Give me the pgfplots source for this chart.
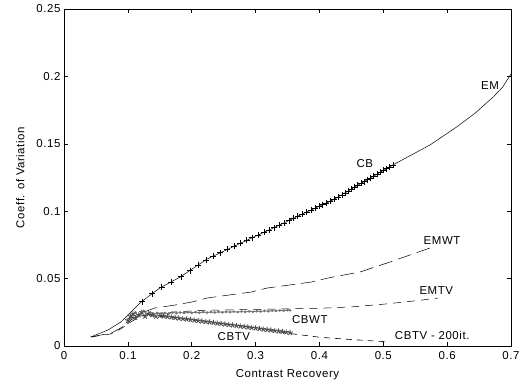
\documentclass[border=0pt]{standalone}
\usepackage{pgfplots}
\pgfplotsset{compat=1.18}
\usepackage{fontspec}
\setmainfont{Liberation Sans}[LetterSpace=5]
\begin{document}
\begin{tikzpicture}
\begin{axis}[
  scale only axis, width=447bp, height=337bp,
  xmin=0, xmax=0.7, ymin=0, ymax=0.25,
  xtick={0,0.1,0.2,0.3,0.4,0.5,0.6,0.7},
  xticklabels={0,0.1,0.2,0.3,0.4,0.5,0.6,0.7},
  ytick={0,0.05,0.1,0.15,0.2,0.25},
  yticklabels={0,0.05,0.1,0.15,0.2,0.25},
  /pgf/number format/assume math mode=true,
  tick align=inside, major tick length=4bp,
  axis line style={line width=0.6bp},
  tick style={line width=0.5bp, black},
  ticklabel style={font=\fontsize{11.5}{13}\selectfont},
  xticklabel style={yshift=-2bp},
  label style={font=\fontsize{11.5}{13}\selectfont},
  xlabel={Contrast Recovery},
  ylabel={Coeff. of Variation},
  xlabel style={at={(axis description cs:0.5,-0.086)}, anchor=center},
  ylabel style={at={(axis description cs:-0.098,0.5)}, anchor=center},
  clip=false,
]
% EM
\addplot[black, line width=0.5bp] coordinates {
(0.042,0.0067)(0.069,0.0119)(0.089,0.0178)(0.105,0.0252)(0.119,0.0319)
(0.135,0.0378)(0.150,0.0430)(0.182,0.0512)(0.224,0.0645)(0.287,0.0786)
(0.338,0.0898)(0.370,0.0972)(0.421,0.1083)(0.4635,0.1202)(0.515,0.1343)
(0.573,0.1491)(0.615,0.1625)(0.644,0.1728)(0.672,0.1847)(0.687,0.1921)(0.700,0.2018)};
% CB
\addplot[black, only marks, mark=+, mark size=3bp, mark options={line width=0.5bp}] coordinates {
(0.122,0.0330)(0.138,0.0388)(0.153,0.0438)(0.168,0.0476)(0.183,0.0515)
(0.197,0.0560)(0.210,0.0601)(0.222,0.0639)(0.234,0.0667)(0.245,0.0692)
(0.256,0.0716)(0.266,0.0739)(0.276,0.0761)(0.286,0.0784)(0.295,0.0804)
(0.304,0.0823)(0.313,0.0843)(0.321,0.0861)(0.329,0.0878)(0.337,0.0896)
(0.345,0.0914)(0.352,0.0930)(0.359,0.0946)(0.366,0.0963)(0.373,0.0979)
(0.380,0.0994)(0.387,0.1009)(0.393,0.1022)(0.399,0.1035)(0.405,0.1048)
(0.411,0.1061)(0.417,0.1074)(0.423,0.1089)(0.429,0.1105)(0.435,0.1122)
(0.440,0.1136)(0.445,0.1150)(0.450,0.1164)(0.455,0.1178)(0.460,0.1192)
(0.465,0.1206)(0.470,0.1220)(0.475,0.1234)(0.480,0.1247)(0.485,0.1261)
(0.490,0.1275)(0.495,0.1288)(0.500,0.1302)(0.505,0.1316)(0.510,0.1329)(0.515,0.1343)};
% EMWT
\addplot[black, line width=0.5bp, dash pattern=on 14bp off 6bp] coordinates {
(0.042,0.0067)(0.074,0.0096)(0.089,0.0134)(0.105,0.0193)(0.121,0.0245)
(0.1425,0.0282)(0.174,0.0304)(0.200,0.0326)(0.224,0.0356)(0.294,0.0401)
(0.318,0.0430)(0.388,0.0475)(0.413,0.0504)(0.4635,0.0549)(0.506,0.0616)(0.573,0.0727)};
% EMTV
\addplot[black, line width=0.5bp, dash pattern=on 8bp off 6bp] coordinates {
(0.042,0.0067)(0.074,0.009)(0.090,0.013)(0.105,0.018)(0.120,0.022)(0.140,0.024)
(0.180,0.0255)(0.220,0.0265)(0.280,0.027)(0.340,0.0275)(0.400,0.028)
(0.450,0.029)(0.500,0.031)(0.550,0.0335)(0.586,0.0356)};
% CBWT
\addplot[black!55, line width=0.8bp, mark=*, mark size=0.9bp] coordinates {
(0.100,0.017)(0.104,0.021)(0.108,0.023)(0.112,0.025)(0.116,0.022)(0.120,0.024)
(0.125,0.026)(0.130,0.023)(0.135,0.025)(0.140,0.024)(0.146,0.0245)(0.152,0.024)
(0.158,0.0245)(0.164,0.024)(0.170,0.0248)(0.176,0.0244)(0.182,0.0249)(0.188,0.0245)
(0.194,0.0250)(0.200,0.0246)(0.206,0.0251)(0.212,0.0247)(0.218,0.0252)(0.224,0.0248)
(0.230,0.0252)(0.236,0.0249)(0.242,0.0253)(0.248,0.0250)(0.254,0.0254)(0.260,0.0251)
(0.266,0.0255)(0.272,0.0252)(0.278,0.0256)(0.284,0.0253)(0.290,0.0257)(0.296,0.0254)
(0.302,0.0258)(0.308,0.0256)(0.314,0.0260)(0.320,0.0258)(0.326,0.0262)(0.332,0.0260)
(0.338,0.0264)(0.344,0.0262)(0.350,0.0266)(0.354,0.0265)};
% CBTV
\addplot[black!70, line width=0.9bp, only marks, mark=star, mark size=2.8bp] coordinates {
(0.100,0.019)(0.104,0.022)(0.108,0.024)(0.112,0.021)(0.117,0.023)(0.122,0.025)
(0.127,0.022)(0.132,0.024)(0.138,0.023)(0.144,0.022)(0.150,0.0225)(0.156,0.0222)
(0.162,0.0218)(0.168,0.0214)(0.174,0.0210)(0.180,0.0206)(0.186,0.0203)(0.192,0.0199)
(0.198,0.0195)(0.204,0.0192)(0.210,0.0188)(0.216,0.0184)(0.222,0.0181)(0.228,0.0177)
(0.234,0.0173)(0.240,0.0169)(0.246,0.0166)(0.252,0.0162)(0.258,0.0158)(0.264,0.0155)
(0.270,0.0151)(0.276,0.0147)(0.282,0.0144)(0.288,0.0140)(0.294,0.0136)(0.300,0.0133)
(0.306,0.0129)(0.312,0.0125)(0.318,0.0121)(0.324,0.0118)(0.330,0.0114)(0.336,0.0110)
(0.342,0.0107)(0.348,0.0103)(0.354,0.0099)};
% CBTV - 200it.
\addplot[black, line width=0.6bp, dash pattern=on 6bp off 5bp] coordinates {
(0.100,0.020)(0.120,0.023)(0.150,0.022)(0.200,0.0195)(0.250,0.0165)(0.300,0.0135)
(0.350,0.0095)(0.400,0.0065)(0.450,0.0048)(0.510,0.003)};
% labels
\begin{scope}[every node/.style={font=\fontsize{11.5}{13}\selectfont, inner sep=0pt}]
\node at (axis cs:0.667,0.193) {EM};
\node at (axis cs:0.471,0.135) {CB};
\node at (axis cs:0.592,0.078) {EMWT};
\node at (axis cs:0.583,0.041) {EMTV};
\node at (axis cs:0.385,0.0193) {CBWT};
\node at (axis cs:0.266,0.0067) {CBTV};
\node[anchor=west] at (axis cs:0.518,0.0082) {CBTV - 200it.};
\end{scope}
\end{axis}
\path (-64bp,-41bp) rectangle ++(531bp,387bp);
\end{tikzpicture}
\end{document}
